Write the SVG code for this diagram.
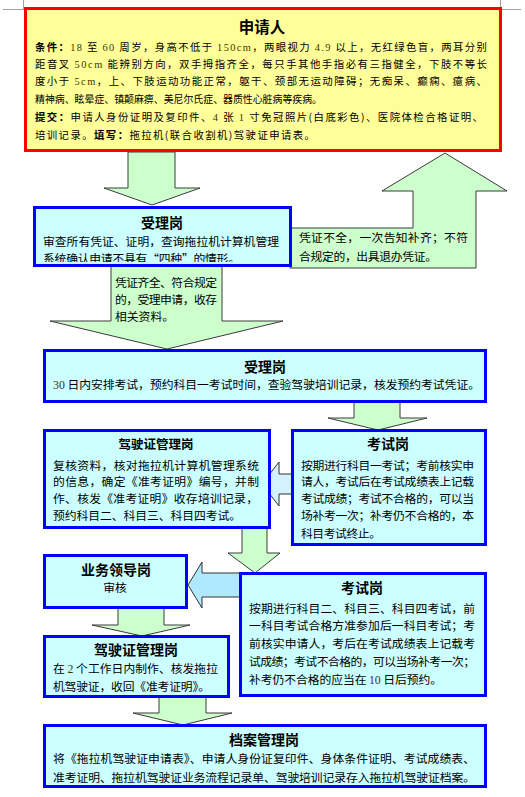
<svg xmlns="http://www.w3.org/2000/svg" width="525" height="797" viewBox="0 0 525 797">
<style>
text{font-family:"Noto Sans CJK SC","Noto Sans",sans-serif;fill:#000}
.t{font-size:14px;font-weight:700;text-anchor:middle}
.b{font-size:11.8px}
.s{font-size:10.4px}
.n{font-family:"Liberation Serif",serif;fill:#3d3600}
.k{font-weight:700}
.box{fill:#CCFFFF;stroke:#0000FF;stroke-width:3}
.ga{fill:#CCFFCC;stroke:#3a3a3a;stroke-width:1}
.ba{stroke:#333;stroke-width:1}
.mark{stroke:#a0a0a0;stroke-width:1;fill:none}
</style>
<defs>
<clipPath id="c2"><rect x="36" y="209" width="253" height="53"/></clipPath>
</defs>
<path class="mark" d="M3 9.5H23.5V0M500.5 0V9.5H521"/>
<g id="connectors">
<polygon class="ga" points="128,152 175,152 175,188 200,188 152,205 104,188 128,188"/>
<polygon class="ga" points="290,228 413,228 413,191 382,191 445,153 507,191 476,191 476,268 290,268"/>
<text class="b" x="299" y="242" textLength="169" lengthAdjust="spacing">凭证不全，一次告知补齐；不符</text>
<text class="b" x="299" y="261" textLength="138" lengthAdjust="spacing">合规定的，出具退办凭证。</text>
<polygon class="ga" points="111,266 222,266 222,321 283,321 167,349 50,321 111,321"/>
<text class="b" x="115" y="287" textLength="102" lengthAdjust="spacing">凭证齐全、符合规定</text>
<text class="b" x="115" y="304" textLength="102" lengthAdjust="spacing">的，受理申请，收存</text>
<text class="b" x="115" y="321">相关资料。</text>
<polygon class="ga" points="354,402 400,402 400,418 427,418 378,430 328,418 354,418"/>
<polygon class="ba" fill="#D2F2FF" points="262,484 279,462 279,474 292,474 292,494 279,494 279,506"/>
<polygon class="ga" points="242,528 267,528 267,553 280,553 255,573 228,553 242,553"/>
<polygon class="ba" fill="#AEE9FF" points="188,585 202,562 202,573 240,573 240,597 202,597 202,608"/>
<polygon class="ga" points="118,608 164,608 164,625 190,625 142,636 92,625 118,625"/>
<polygon class="ga" points="159,697 206,697 206,713 232,713 183,725 133,713 159,713"/>
</g>
<g id="applicant">
<rect x="25.5" y="8.5" width="475" height="142" fill="#FFFF99" stroke="#FF0000" stroke-width="3"/>
<text class="t" x="262" y="32.5" style="font-size:15.5px">申请人</text>
<text class="s" x="35" y="51" textLength="452" lengthAdjust="spacing"><tspan class="k">条件：</tspan><tspan class="n">18</tspan> 至 <tspan class="n">60</tspan> 周岁，身高不低于 <tspan class="n">150cm</tspan>，两眼视力 <tspan class="n">4.9</tspan> 以上，无红绿色盲，两耳分别</text>
<text class="s" x="35" y="68" textLength="452" lengthAdjust="spacing">距音叉 <tspan class="n">50cm</tspan> 能辨别方向，双手拇指齐全，每只手其他手指必有三指健全，下肢不等长</text>
<text class="s" x="35" y="84.5" textLength="452" lengthAdjust="spacing">度小于 <tspan class="n">5cm</tspan>，上、下肢运动功能正常，躯干、颈部无运动障碍；无痴呆、癫痫、癔病、</text>
<text class="s" x="35" y="102.5" textLength="287" lengthAdjust="spacingAndGlyphs">精神病、眩晕症、镇颠麻痹、美尼尔氏症、器质性心脏病等疾病。</text>
<text class="s" x="35" y="121" textLength="448" lengthAdjust="spacing"><tspan class="k">提交：</tspan>申请人身份证明及复印件、<tspan class="n">4</tspan> 张 <tspan class="n">1</tspan> 寸免冠照片(白底彩色)、医院体检合格证明、</text>
<text class="s" x="35" y="139" textLength="280" lengthAdjust="spacing">培训记录。<tspan class="k">填写：</tspan>拖拉机(联合收割机)驾驶证申请表。</text>
</g>
<g id="accept1">
<rect class="box" x="34.5" y="207.5" width="256" height="58"/>
<text class="t" x="162" y="228">受理岗</text>
<text class="b" x="43" y="245.5" textLength="236" lengthAdjust="spacing">审查所有凭证、证明，查询拖拉机计算机管理</text>
<text class="b" x="43" y="262.5" textLength="197" lengthAdjust="spacing" clip-path="url(#c2)">系统确认申请不具有“四种”的情形。</text>
</g>
<g id="accept2">
<rect class="box" x="44.5" y="350.5" width="441" height="51"/>
<text class="t" x="265" y="372">受理岗</text>
<text class="b" x="53" y="388.5" textLength="427" lengthAdjust="spacing"><tspan class="n">30</tspan> 日内安排考试，预约科目一考试时间，查验驾驶培训记录，核发预约考试凭证。</text>
</g>
<g id="license1">
<rect class="box" x="44.5" y="430.5" width="225" height="97"/>
<text class="t" x="156" y="449" style="font-size:12.5px">驾驶证管理岗</text>
<text class="b" x="53" y="469.5" textLength="206" lengthAdjust="spacing">复核资料，核对拖拉机计算机管理系统</text>
<text class="b" x="53" y="486" textLength="206" lengthAdjust="spacing">的信息，确定《准考证明》编号，并制</text>
<text class="b" x="53" y="502.5" textLength="205" lengthAdjust="spacing">作、核发《准考证明》收存培训记录，</text>
<text class="b" x="53" y="519.5" textLength="188" lengthAdjust="spacing">预约科目二、科目三、科目四考试。</text>
</g>
<g id="exam1">
<rect class="box" x="292.5" y="430.5" width="193" height="114"/>
<text class="t" x="388" y="449">考试岗</text>
<text class="b" x="301" y="469.5" textLength="173" lengthAdjust="spacing">按期进行科目一考试；考前核实申</text>
<text class="b" x="301" y="486" textLength="173" lengthAdjust="spacing">请人，考试后在考试成绩表上记载</text>
<text class="b" x="301" y="502.5" textLength="173" lengthAdjust="spacing">考试成绩；考试不合格的，可以当</text>
<text class="b" x="301" y="519.5" textLength="173" lengthAdjust="spacing">场补考一次；补考仍不合格的，本</text>
<text class="b" x="301" y="537.5" textLength="80" lengthAdjust="spacing">科目考试终止。</text>
</g>
<g id="leader">
<rect class="box" x="44.5" y="555.5" width="142" height="52"/>
<text class="t" x="116" y="575">业务领导岗</text>
<text class="b" x="115" y="591.5" text-anchor="middle">审核</text>
</g>
<g id="exam2">
<rect class="box" x="240.5" y="573.5" width="245" height="122"/>
<text class="t" x="362" y="593">考试岗</text>
<text class="b" x="249" y="612.5" textLength="226" lengthAdjust="spacing">按期进行科目二、科目三、科目四考试，前</text>
<text class="b" x="249" y="629.5" textLength="226" lengthAdjust="spacing">一科目考试合格方准参加后一科目考试；考</text>
<text class="b" x="249" y="648" textLength="226" lengthAdjust="spacing">前核实申请人，考后在考试成绩表上记载考</text>
<text class="b" x="249" y="665.5" textLength="226" lengthAdjust="spacing">试成绩；考试不合格的，可以当场补考一次；</text>
<text class="b" x="249" y="683.5" textLength="193" lengthAdjust="spacing">补考仍不合格的应当在 <tspan class="n">10</tspan> 日后预约。</text>
</g>
<g id="license2">
<rect class="box" x="44.5" y="636.5" width="184" height="60"/>
<text class="t" x="136" y="655">驾驶证管理岗</text>
<text class="b" x="53" y="672.5" textLength="165" lengthAdjust="spacing">在 <tspan class="n">2</tspan> 个工作日内制作、核发拖拉</text>
<text class="b" x="53" y="690.5" textLength="157" lengthAdjust="spacing">机驾驶证，收回《准考证明》。</text>
</g>
<g id="archive">
<rect class="box" x="44.5" y="725.5" width="441" height="61"/>
<text class="t" x="264" y="745">档案管理岗</text>
<text class="b" x="53" y="762.5" textLength="422" lengthAdjust="spacing">将《拖拉机驾驶证申请表》、申请人身份证复印件、身体条件证明、考试成绩表、</text>
<text class="b" x="53" y="781.5" textLength="422" lengthAdjust="spacing">准考证明、拖拉机驾驶证业务流程记录单、驾驶培训记录存入拖拉机驾驶证档案。</text>
</g>
</svg>
